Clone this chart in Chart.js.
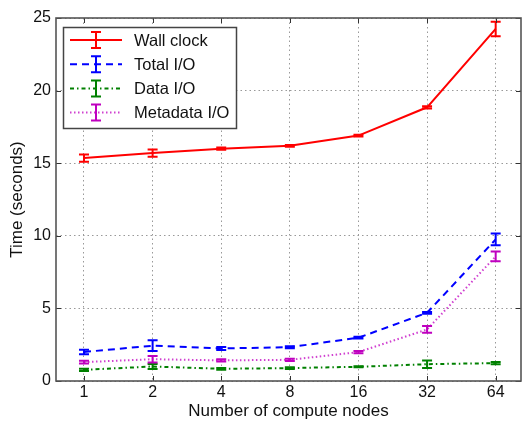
<!DOCTYPE html>
<html>
<head>
<meta charset="utf-8">
<script src="https://cdn.jsdelivr.net/npm/chart.js@4/dist/chart.umd.min.js"></script>
<style>
  html, body { margin: 0; padding: 0; background: #fff; }
  #wrap { width: 523px; height: 422px; }
</style>
</head>
<body>
<div id="wrap"><canvas id="chart" width="523" height="422"></canvas></div>
<script>
// Data
const nodes = [1, 2, 4, 8, 16, 32, 64];
const yTicks = [0, 5, 10, 15, 20, 25];
const seriesNames = ['Wall clock', 'Total I/O', 'Data I/O', 'Metadata I/O'];

const wallClock    = [15.35, 15.7, 16.0, 16.2, 16.9, 18.85, 24.25];
const wallClockErr = [0.25, 0.25, 0.08, 0.06, 0.06, 0.08, 0.5];
const totalIO      = [2.0, 2.43, 2.24, 2.33, 2.98, 4.7, 9.75];
const totalIOErr   = [0.16, 0.37, 0.1, 0.07, 0.06, 0.06, 0.4];
const dataIO       = [0.77, 1.0, 0.84, 0.89, 0.98, 1.16, 1.23];
const dataIOErr    = [0.08, 0.17, 0.06, 0.06, 0.04, 0.26, 0.08];
const metaIO       = [1.3, 1.5, 1.42, 1.46, 1.99, 3.55, 8.58];
const metaIOErr    = [0.1, 0.23, 0.08, 0.08, 0.08, 0.23, 0.34];

const FONT = '"Liberation Sans", Arial, Helvetica, sans-serif';

function pts(vals) {
  return vals.map((v, i) => ({ x: Math.log2(nodes[i]), y: v }));
}

const styles = [
  { color: '#ff0000', bar: '#ff0000', dash: [] },
  { color: '#0000ff', bar: '#0000ff', dash: [7, 5] },
  { color: '#008000', bar: '#008000', dash: [4, 3, 1.5, 3] },
  { color: '#d040d0', bar: '#bf00bf', dash: [1.5, 2.5] }
];
const values = [wallClock, totalIO, dataIO, metaIO];
const errors = [wallClockErr, totalIOErr, dataIOErr, metaIOErr];

// error bars, drawn through the scales
const errorBars = {
  id: 'errorBars',
  afterDatasetsDraw(chart) {
    const { ctx, scales: { x, y } } = chart;
    ctx.save();
    chart.data.datasets.forEach((ds, di) => {
      const err = errors[di];
      ctx.strokeStyle = styles[di].bar;
      ctx.lineWidth = 2;
      ctx.setLineDash([]);
      ds.data.forEach((p, i) => {
        const px = x.getPixelForValue(p.x);
        const top = y.getPixelForValue(p.y + err[i]);
        const bot = y.getPixelForValue(p.y - err[i]);
        ctx.beginPath();
        ctx.moveTo(px, top); ctx.lineTo(px, bot);
        ctx.moveTo(px - 5, top); ctx.lineTo(px + 5, top);
        ctx.moveTo(px - 5, bot); ctx.lineTo(px + 5, bot);
        ctx.stroke();
      });
    });
    ctx.restore();
  }
};

// frame, inward ticks and legend box
const frame = {
  id: 'frame',
  afterDraw(chart) {
    const { ctx, chartArea: a, scales: { x, y } } = chart;
    ctx.save();
    ctx.setLineDash([]);
    ctx.strokeStyle = '#333';
    ctx.lineWidth = 1;
    nodes.forEach(n => {
      const px = Math.round(x.getPixelForValue(Math.log2(n))) + 0.5;
      ctx.beginPath();
      ctx.moveTo(px, a.bottom); ctx.lineTo(px, a.bottom - 5);
      ctx.moveTo(px, a.top); ctx.lineTo(px, a.top + 5);
      ctx.stroke();
    });
    yTicks.forEach(v => {
      const py = Math.round(y.getPixelForValue(v)) + 0.5;
      ctx.beginPath();
      ctx.moveTo(a.left, py); ctx.lineTo(a.left + 5, py);
      ctx.moveTo(a.right, py); ctx.lineTo(a.right - 5, py);
      ctx.stroke();
    });
    ctx.strokeStyle = '#555';
    ctx.lineWidth = 1.6;
    ctx.strokeRect(a.left, a.top, a.right - a.left, a.bottom - a.top);

    // legend
    const bx = 63.5, by = 27.5, bw = 173, bh = 101;
    ctx.fillStyle = '#fff';
    ctx.fillRect(bx, by, bw, bh);
    ctx.strokeStyle = '#444';
    ctx.lineWidth = 1.5;
    ctx.strokeRect(bx, by, bw, bh);
    ctx.font = '16.5px ' + FONT;
    ctx.textBaseline = 'middle';
    ctx.textAlign = 'left';
    seriesNames.forEach((name, i) => {
      const cy = 40 + i * 24.2;
      const s = styles[i];
      ctx.strokeStyle = s.color;
      ctx.lineWidth = 2;
      ctx.setLineDash(s.dash);
      ctx.beginPath();
      ctx.moveTo(70, cy); ctx.lineTo(122, cy);
      ctx.stroke();
      ctx.setLineDash([]);
      ctx.strokeStyle = s.bar;
      ctx.beginPath();
      ctx.moveTo(96, cy - 8); ctx.lineTo(96, cy + 8);
      ctx.moveTo(91, cy - 8); ctx.lineTo(101, cy - 8);
      ctx.moveTo(91, cy + 8); ctx.lineTo(101, cy + 8);
      ctx.stroke();
      ctx.fillStyle = '#111';
      ctx.fillText(name, 134, cy + 1);
    });
    ctx.restore();
  }
};

new Chart(document.getElementById('chart').getContext('2d'), {
  type: 'line',
  data: {
    datasets: seriesNames.map((name, i) => ({
      label: name,
      data: pts(values[i]),
      borderColor: styles[i].color,
      borderDash: styles[i].dash,
      borderWidth: 2,
      pointRadius: 0,
      tension: 0,
      fill: false
    }))
  },
  options: {
    responsive: false,
    animation: false,
    layout: { padding: { top: 18, right: 2, left: 0, bottom: 0 } },
    plugins: { legend: { display: false }, tooltip: { enabled: false } },
    scales: {
      x: {
        type: 'linear',
        min: -0.408,
        max: 6.369,
        afterBuildTicks: s => { s.ticks = nodes.map(n => ({ value: Math.log2(n) })); },
        afterFit: s => { s.height = 41; },
        ticks: {
          callback: v => String(2 ** v),
          color: '#111',
          font: { family: FONT, size: 16 },
          padding: 2,
          maxRotation: 0
        },
        grid: { color: '#999', lineWidth: 1, drawTicks: false },
        border: { display: false, dash: [1.5, 3] },
        title: {
          display: true,
          text: 'Number of compute nodes',
          color: '#111',
          font: { family: FONT, size: 17 },
          padding: { top: 0, bottom: 0 }
        }
      },
      y: {
        min: 0,
        max: 25,
        afterBuildTicks: s => { s.ticks = yTicks.map(v => ({ value: v })); },
        afterFit: s => { s.width = 56; },
        ticks: {
          color: '#111',
          font: { family: FONT, size: 16 },
          padding: 5
        },
        grid: { color: '#999', lineWidth: 1, drawTicks: false },
        border: { display: false, dash: [1.5, 3] },
        title: {
          display: true,
          text: 'Time (seconds)',
          color: '#111',
          font: { family: FONT, size: 17 },
          padding: { top: 7, bottom: 0 }
        }
      }
    }
  },
  plugins: [errorBars, frame]
});
</script>
</body>
</html>
